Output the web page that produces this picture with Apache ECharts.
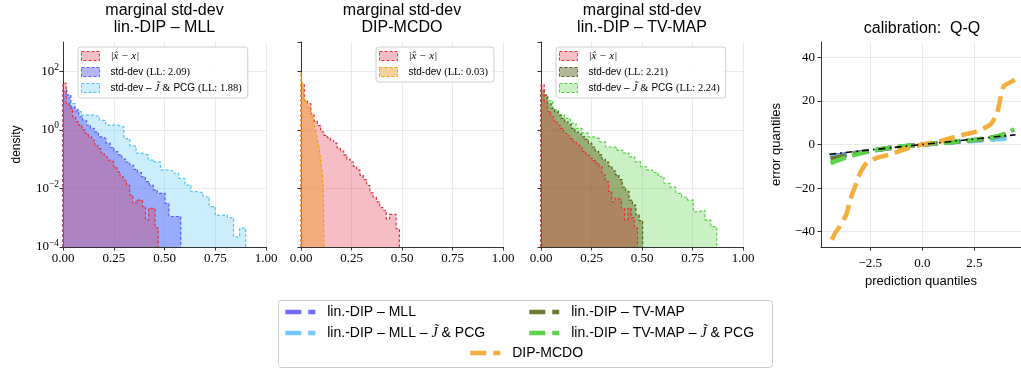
<!DOCTYPE html>
<html>
<head>
<meta charset="utf-8">
<script src="https://cdn.jsdelivr.net/npm/echarts@6.0.0/dist/echarts.min.js"></script>
<style>
  html, body { margin: 0; padding: 0; background: #fff; }
  #chart { width: 1021px; height: 371px; }
</style>
</head>
<body>
<div id="chart"></div>
<script>
  var chart = echarts.init(document.getElementById("chart"));
  var SANS = "Liberation Sans";
  var SERIF = "Liberation Serif";

  // tick labels
  var histXTicks = [0, 0.25, 0.5, 0.75, 1];
  var qqXTicks = [-2.5, 0, 2.5];
  var qqYTicks = [-40, -20, 0, 20, 40];

  // histogram densities (30 equal bins from 0 up to the *Max edge)
  var errMllMax = 0.469;
  var errMll = [39, 7.9, 5.5, 2.8, 1.9, 1.45, 1.0, 0.76, 0.58, 0.45, 0.30, 0.23, 0.16, 0.12, 0.093,
    0.081, 0.055, 0.037, 0.025, 0.019, 0.013, 0.0059, 0.0031, 0.004, 0.004, 0.0024, 0.00083, 0.0021, 0.0021, 0.00045];
  var sdMllMax = 0.58;
  var sdMll = [23, 15.5, 6.2, 4.8, 2.8, 2.1, 1.45, 1.12, 0.85, 0.58, 0.5, 0.35, 0.25, 0.18, 0.14,
    0.1, 0.079, 0.063, 0.045, 0.035, 0.025, 0.017, 0.013, 0.0089, 0.0068, 0.0068, 0.0031, 0.0011, 0.0011, 0.0011];
  var sdMllPcgMax = 0.90;
  var sdMllPcg = [15.5, 7.9, 4.2, 3.2, 3.2, 2.8, 2.1, 1.45, 1.45, 1.26, 0.5, 0.28, 0.16, 0.14, 0.093,
    0.079, 0.043, 0.04, 0.033, 0.022, 0.013, 0.0078, 0.0071, 0.0052, 0.0024, 0.0012, 0.0012, 0.001, 0.00022, 0.00044];

  var errMcdoMax = 0.487;
  var errMcdo = [35, 10, 7.9, 3.5, 2.0, 1.4, 0.85, 0.65, 0.54, 0.44, 0.35, 0.24, 0.19, 0.14, 0.1,
    0.079, 0.056, 0.042, 0.028, 0.02, 0.0126, 0.0071, 0.005, 0.0035, 0.0022, 0.0018, 0.00089, 0.0013, 0.0013, 0.00042];
  var sdMcdoMax = 0.114;
  var sdMcdo = [93, 50, 35, 20, 11.2, 10, 9.3, 8.5, 7.8, 6.6, 5.8, 5.1, 4.5, 4.0, 3.2,
    2.6, 2.1, 1.6, 1.26, 0.89, 0.71, 0.5, 0.38, 0.28, 0.2, 0.126, 0.079, 0.045, 0.025, 0.01];

  var errTvMax = 0.478;
  var errTv = [35, 9.1, 4.2, 2.8, 2.0, 1.45, 1.12, 0.76, 0.63, 0.5, 0.39, 0.3, 0.24, 0.18, 0.14,
    0.107, 0.089, 0.072, 0.055, 0.029, 0.017, 0.0079, 0.0035, 0.0046, 0.004, 0.0021, 0.00083, 0.0021, 0.001, 0.00044];
  var sdTvMax = 0.503;
  var sdTv = [23, 15.5, 7.9, 5.4, 4.2, 3.2, 2.45, 1.9, 1.5, 1.12, 0.85, 0.71, 0.58, 0.47, 0.35,
    0.26, 0.19, 0.14, 0.1, 0.079, 0.056, 0.04, 0.029, 0.02, 0.011, 0.0079, 0.004, 0.0027, 0.00126, 0.00079];
  var sdTvPcgMax = 0.87;
  var sdTvPcg = [15.5, 10, 4.8, 3.2, 2.45, 1.66, 1.12, 0.79, 0.58, 0.5, 0.39, 0.26, 0.25, 0.2, 0.16,
    0.12, 0.081, 0.055, 0.043, 0.035, 0.025, 0.015, 0.011, 0.0068, 0.005, 0.004, 0.0016, 0.0018, 0.00083, 0.0005];

  // Q-Q curves [prediction quantile, error quantile]
  var qqIdeal = [[-4.46, -4.46], [4.47, 4.47]];
  var qqMll = [[-4.4, -5.5], [-3, -3.5], [-1.5, -1.6], [0, 0], [1.5, 1.1], [3, 2.5], [4.2, 4]];
  var qqMllPcg = [[-4.4, -6], [-3, -3.8], [-1.5, -1.5], [0, 0], [1.5, 1.0], [3, 2.0], [4.2, 2.8]];
  var qqTv = [[-4.4, -6.5], [-3, -3.8], [-1.5, -1.5], [0, 0], [1.5, 1.2], [3, 2.6], [4.2, 5]];
  var qqTvPcg = [[-4.4, -8.5], [-3.5, -5.5], [-2.5, -3], [-1.5, -1.5], [0, 0], [1.5, 1.2], [2.5, 2.2],
    [3.5, 3.5], [4.1, 5.5], [4.4, 7]];
  var qqMcdo = [[-4.34, -43.7], [-4.18, -40.6], [-3.86, -36], [-3.62, -31.4], [-3.46, -25.3], [-3.22, -19.2],
    [-2.98, -13], [-2.66, -8.4], [-2.18, -6.1], [-1.54, -4.6], [-0.9, -2.3], [0, 0], [0.87, 1.5], [1.67, 3.8],
    [2.63, 6.1], [3.27, 9.2], [3.59, 14.6], [3.75, 21.5], [3.91, 26.8], [4.23, 28.6], [4.47, 29.9]];

  var nErr = "|x\u0302 \u2212 x|";
  var nMll = "std-dev (LL: 2.09)";
  var nMllPcg = "std-dev \u2013 J\u0303 & PCG (LL: 1.88)";
  var nMcdo = "std-dev (LL: 0.03)";
  var nTv = "std-dev (LL: 2.21)";
  var nTvPcg = "std-dev \u2013 J\u0303 & PCG (LL: 2.24)";

  var C = {
    red: "#e8303a", redFill: "rgba(225,40,60,0.30)",
    blue: "#5a5aff", blueFill: "rgba(90,90,250,0.45)",
    cyan: "#4fc3f7", cyanFill: "rgba(100,200,245,0.33)",
    orange: "#f0a000", orangeFill: "rgba(240,150,40,0.45)",
    olive: "#55631d", oliveFill: "rgba(85,95,20,0.45)",
    green: "#4cd43a", greenFill: "rgba(80,210,60,0.30)",
  };

  // turn bin heights into a closed step outline
  function steps(maxEdge, vals) {
    var n = vals.length;
    var pts = [[0, 1e-4]];
    vals.forEach(function (v, i) {
      pts.push([(maxEdge * i) / n, v]);
    });
    pts.push([maxEdge, vals[n - 1]]);
    pts.push([maxEdge, 1e-4]);
    return pts;
  }

  function hist(name, idx, data, line, fill, z) {
    return {
      name: name, type: "line", xAxisIndex: idx, yAxisIndex: idx, data: data,
      step: "end", symbol: "none", z: z,
      lineStyle: { color: line, width: 1.2, type: [3, 2] },
      itemStyle: { color: line },
      areaStyle: { color: fill, origin: "start", opacity: 1 },
    };
  }

  function qq(name, data, color, z, dash, width) {
    return {
      name: name, type: "line", xAxisIndex: 3, yAxisIndex: 3, data: data,
      symbol: "none", smooth: 0.2, z: z,
      lineStyle: { color: color, width: width, type: dash },
      itemStyle: { color: color },
    };
  }

  var axisLineStyle = { show: true, onZero: false, lineStyle: { color: "#333", width: 1 } };
  var tickStyle = { show: true, length: 3.5, lineStyle: { color: "#333" } };
  var gridLine = { show: true, lineStyle: { color: "#e4e4e4", width: 0.8 } };

  function histX(idx) {
    return {
      type: "value", gridIndex: idx, min: 0, max: 1, interval: 0.25,
      axisLine: axisLineStyle, axisTick: tickStyle, splitLine: gridLine,
      axisLabel: {
        color: "#000", fontFamily: SERIF, fontSize: 13, margin: 5,
        formatter: function (v) { return v.toFixed(2); },
      },
    };
  }

  function histY(idx, showLabel) {
    return {
      type: "log", logBase: 10, gridIndex: idx, min: 1e-4, max: 1e3, interval: 2,
      name: idx === 0 ? "density" : "", nameLocation: "middle", nameGap: 40,
      nameTextStyle: { fontFamily: SANS, fontSize: 12, color: "#000" },
      axisLine: axisLineStyle, axisTick: tickStyle,
      splitLine: { show: true, showMaxLine: false, lineStyle: { color: "#e4e4e4", width: 0.8 } },
      axisLabel: {
        show: showLabel, showMaxLabel: false, color: "#000", fontFamily: SERIF, fontSize: 13, margin: 4,
        formatter: function (v) {
          var e = Math.round(Math.log10(v));
          return "10{s|" + String(e).replace("-", "\u2212") + "}";
        },
        rich: { s: { fontFamily: SERIF, fontSize: 9.5, padding: [0, 0, 8, 0], color: "#000" } },
      },
    };
  }

  var histRich = {
    s: { fontFamily: SANS, fontSize: 10 },
    r: { fontFamily: SERIF, fontSize: 10.5 },
    m: { fontFamily: SERIF, fontSize: 11, fontStyle: "italic" },
  };
  function histFmt(name) {
    if (name === nErr) return "{m|" + name + "}";
    var ll = name.slice(name.indexOf("("));
    if (name.indexOf("PCG") > 0) return "{s|std-dev \u2013} {m|J\u0303} {r|&} {s|PCG} {r|" + ll + "}";
    return "{s|std-dev} {r|" + ll + "}";
  }

  function histLegend(left, names, lines, fills) {
    return {
      orient: "vertical", left: left, top: 47, selectedMode: false,
      padding: [3, 6, 4, 3], itemWidth: 18, itemHeight: 9, itemGap: 4,
      backgroundColor: "rgba(255,255,255,0.85)", borderColor: "#d0d0d0", borderWidth: 1, borderRadius: 3,
      textStyle: { color: "#000", fontSize: 10.5, lineHeight: 12, padding: [0, 0, 0, 6], rich: histRich },
      formatter: histFmt,
      data: names.map(function (n, i) {
        return {
          name: n, icon: "rect",
          itemStyle: { color: fills[i], borderColor: lines[i], borderWidth: 1, borderType: [3, 2] },
        };
      }),
    };
  }

  function bottomLegend(left, top, names) {
    return {
      orient: "vertical", left: left, top: top, selectedMode: false, padding: 0,
      itemWidth: 30, itemHeight: 14, itemGap: 7,
      lineStyle: { width: 4.5 },
      itemStyle: { opacity: 0 },
      textStyle: { color: "#000", fontFamily: SANS, fontSize: 14, lineHeight: 14, padding: [0, 0, 0, 7],
        rich: { m: { fontFamily: SERIF, fontSize: 14, fontStyle: "italic" } } },
      formatter: function (n) { return n.replace("J\u0303", "{m|J\u0303}"); },
      data: names,
    };
  }

  function title(x, y, text) {
    return {
      type: "text", x: x, y: y,
      style: { text: text, fontFamily: SANS, fontSize: 16, fill: "#000", textAlign: "center",
        textVerticalAlign: "middle", verticalAlign: "middle" },
    };
  }

  var nLinMll = "lin.-DIP \u2013 MLL";
  var nLinMllPcg = "lin.-DIP \u2013 MLL \u2013 J\u0303 & PCG";
  var nLinTv = "lin.-DIP \u2013 TV-MAP";
  var nLinTvPcg = "lin.-DIP \u2013 TV-MAP \u2013 J\u0303 & PCG";
  var nDipMcdo = "DIP-MCDO";

  var option = {
    animation: false,
    backgroundColor: "#fff",
    grid: [
      { left: 63, right: 1021 - 266, top: 42, bottom: 371 - 247 },
      { left: 301, right: 1021 - 503, top: 42, bottom: 371 - 247 },
      { left: 541, right: 1021 - 743, top: 42, bottom: 371 - 247 },
      { left: 821, right: 0, top: 42, bottom: 371 - 247 },
    ],
    xAxis: [
      histX(0), histX(1), histX(2),
      {
        type: "value", gridIndex: 3, min: -4.86, max: 4.73,
        name: "prediction quantiles", nameLocation: "middle", nameGap: 26,
        nameTextStyle: { fontFamily: SANS, fontSize: 13, color: "#000" },
        axisLine: axisLineStyle,
        axisTick: { show: true, length: 3.5, lineStyle: { color: "#333" }, customValues: qqXTicks },
        splitLine: gridLine,
        axisLabel: {
          customValues: qqXTicks, color: "#000", fontFamily: SERIF, fontSize: 13, margin: 10,
          formatter: function (v) { return v.toFixed(1).replace("-", "\u2212"); },
        },
      },
    ],
    yAxis: [
      histY(0, true), histY(1, false), histY(2, false),
      {
        type: "value", gridIndex: 3, min: -47, max: 47,
        name: "error quantiles", nameLocation: "middle", nameGap: 38,
        nameTextStyle: { fontFamily: SANS, fontSize: 13, color: "#000" },
        axisLine: axisLineStyle,
        axisTick: { show: true, length: 3.5, lineStyle: { color: "#333" }, customValues: qqYTicks },
        splitLine: gridLine,
        axisLabel: {
          customValues: qqYTicks, color: "#000", fontFamily: SERIF, fontSize: 13, margin: 6,
          formatter: function (v) { return String(v).replace("-", "\u2212"); },
        },
      },
    ],
    legend: [
      histLegend(78, [nErr, nMll, nMllPcg], [C.red, C.blue, C.cyan], [C.redFill, C.blueFill, C.cyanFill]),
      histLegend(376, [nErr, nMcdo], [C.red, C.orange], [C.redFill, C.orangeFill]),
      histLegend(556, [nErr, nTv, nTvPcg], [C.red, C.olive, C.green], [C.redFill, C.oliveFill, C.greenFill]),
      bottomLegend(283, 305, [nLinMll, nLinMllPcg]),
      bottomLegend(527, 305, [nLinTv, nLinTvPcg]),
      bottomLegend(468, 346, [nDipMcdo]),
    ],
    graphic: [
      { type: "rect", left: 278, top: 300, z: -1,
        shape: { width: 494, height: 67, r: 3 },
        style: { fill: "#fff", stroke: "#cccccc", lineWidth: 1 } },
      title(164.5, 11, "marginal std-dev"), title(164.5, 28, "lin.-DIP \u2013 MLL"),
      title(402, 11, "marginal std-dev"), title(402, 28, "DIP-MCDO"),
      title(642, 11, "marginal std-dev"), title(642, 28, "lin.-DIP \u2013 TV-MAP"),
      title(922, 29, "calibration:  Q-Q"),
    ],
    series: [
      hist(nMllPcg, 0, steps(sdMllPcgMax, sdMllPcg), C.cyan, C.cyanFill, 2),
      hist(nMll, 0, steps(sdMllMax, sdMll), C.blue, C.blueFill, 3),
      hist(nErr, 0, steps(errMllMax, errMll), C.red, C.redFill, 4),

      hist(nErr, 1, steps(errMcdoMax, errMcdo), C.red, C.redFill, 2),
      hist(nMcdo, 1, steps(sdMcdoMax, sdMcdo), C.orange, C.orangeFill, 3),

      hist(nTvPcg, 2, steps(sdTvPcgMax, sdTvPcg), C.green, C.greenFill, 2),
      hist(nTv, 2, steps(sdTvMax, sdTv), C.olive, C.oliveFill, 3),
      hist(nErr, 2, steps(errTvMax, errTv), C.red, C.redFill, 4),

      qq(nLinMll, qqMll, "#6f6cff", 2, [16, 7], 4.5),
      qq(nLinMllPcg, qqMllPcg, "#74c8ff", 3, [16, 7], 4.5),
      qq(nLinTv, qqTv, "#6e7b35", 4, [16, 7], 4.5),
      qq(nLinTvPcg, qqTvPcg, "#5bd44a", 5, [16, 7], 4.5),
      qq(nDipMcdo, qqMcdo, "#f5ad3c", 6, [16, 7], 4.5),
      qq("ideal", qqIdeal, "#000", 7, [7, 4, 1.5, 4], 1.6),
    ],
  };

  chart.setOption(option);
</script>
</body>
</html>
